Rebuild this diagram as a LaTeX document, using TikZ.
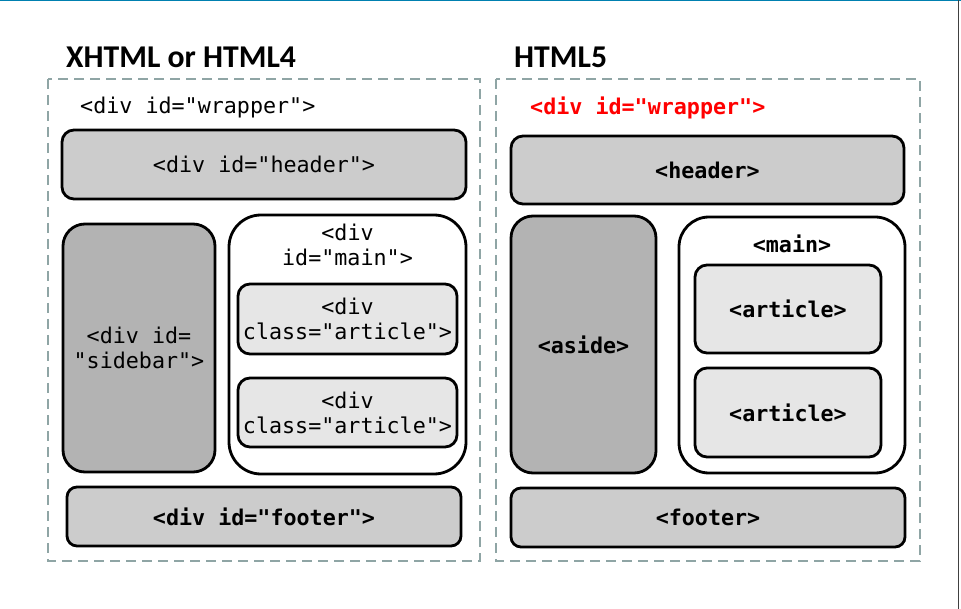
\documentclass[tikz,border=0pt]{standalone}
\usepackage{fontspec}
\setmainfont{Carlito}
\newfontfamily\codefont{DejaVu Sans Mono}
\definecolor{dashgray}{RGB}{143,165,165}
\definecolor{slideblue}{RGB}{0,128,176}
\definecolor{boxgray}{RGB}{204,204,204}
\definecolor{sidegray}{RGB}{179,179,179}
\definecolor{artgray}{RGB}{230,230,230}
\begin{document}
\begin{tikzpicture}[x=1pt,y=-1pt]
        \tikzset{box/.style={draw,line width=2.8pt,align=center,inner sep=0pt,font=\codefont\fontsize{21.7}{25}\selectfont},
                 wrap/.style={draw=dashgray,line width=2.8pt,dash pattern=on 10pt off 6pt},
                 title/.style={anchor=base west,inner sep=0pt,font=\fontsize{31.7}{34}\selectfont\bfseries}};
        \useasboundingbox (0,0) rectangle (961,609);
        \draw[slideblue,line width=1.5pt] (0,0.5) -- (961,0.5);
        \draw[black!75,line width=1.5pt] (958.5,0) -- (958.5,609);
        % XHTML / HTML4 side
        \node[title] (ltitle) at (66,68) {XHTML or HTML4};
        \draw[wrap] (48,79) rectangle (480,561);
        \node[anchor=west,inner sep=0pt,font=\codefont\fontsize{21.7}{25}\selectfont] (lwrap) at (80,108) {<div id="wrapper">};
        \node[box,fill=boxgray,rounded corners=12pt,minimum width=404pt,minimum height=69pt] (lhead) at (264,164.5) {<div id="header">};
        \node[box,fill=sidegray,rounded corners=22pt,minimum width=152pt,minimum height=248pt] (lside) at (139,348) {<div id=\\"sidebar">};
        \node[box,fill=white,rounded corners=32pt,minimum width=237pt,minimum height=259pt] (lmain) at (347.5,344.5) {};
        \node[box,draw=none] (lmaintxt) at (347.5,244.5) {<div\\id="main">};
        \node[box,fill=artgray,rounded corners=12pt,minimum width=219pt,minimum height=70pt] (lart1) at (347.5,319) {<div\\class="article">};
        \node[box,fill=artgray,rounded corners=12pt,minimum width=219pt,minimum height=69pt] (lart2) at (347.5,412.5) {<div\\class="article">};
        \node[box,fill=boxgray,rounded corners=10pt,minimum width=394pt,minimum height=59pt,font=\codefont\bfseries\fontsize{21.7}{25}\selectfont] (lfoot) at (264,516.5) {<div id="footer">};
        % HTML5 side
        \node[title] (rtitle) at (514,68) {HTML5};
        \draw[wrap] (496,79) rectangle (920,561);
        \tikzset{box/.append style={font=\codefont\bfseries\fontsize{21.7}{25}\selectfont}};
        \node[anchor=west,inner sep=0pt,text=red,font=\codefont\bfseries\fontsize{21.7}{25}\selectfont] (rwrap) at (530,108) {<div id="wrapper">};
        \node[box,fill=boxgray,rounded corners=12pt,minimum width=393pt,minimum height=68pt] (rhead) at (707.5,170) {<header>};
        \node[box,fill=sidegray,rounded corners=22pt,minimum width=145pt,minimum height=257pt] (raside) at (583.5,344.5) {<aside>};
        \node[box,fill=white,rounded corners=30pt,minimum width=226pt,minimum height=256pt] (rmain) at (792,345) {};
        \node[box,draw=none] (rmaintxt) at (792,244) {<main>};
        \node[box,fill=artgray,rounded corners=12pt,minimum width=186pt,minimum height=88pt] (rart1) at (788,309) {<article>};
        \node[box,fill=artgray,rounded corners=12pt,minimum width=186pt,minimum height=89pt] (rart2) at (788,412.5) {<article>};
        \node[box,fill=boxgray,rounded corners=10pt,minimum width=394pt,minimum height=59pt] (rfoot) at (708,517.5) {<footer>};
    \end{tikzpicture}
\end{document}
